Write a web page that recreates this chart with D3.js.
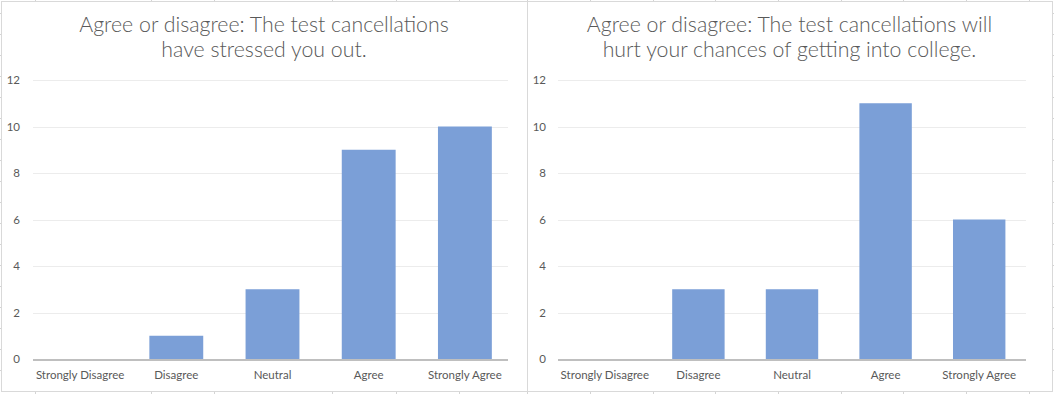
<!DOCTYPE html>
<html><head><meta charset="utf-8">
<script src="https://cdn.jsdelivr.net/npm/d3@7"></script>
<style>body{margin:0;background:#fff}svg{display:block}</style>
</head><body>
<svg id="c" width="1054" height="394"></svg>
<script>
const categories = ["Strongly Disagree","Disagree","Neutral","Agree","Strongly Agree"];
const stressValues = [0,1,3,9,10];
const collegeValues = [0,3,3,11,6];
const yTicks = [0,2,4,6,8,10,12];
const title1 = ["Agree or disagree: The test cancellations","have stressed you out."];
const title2 = ["Agree or disagree: The test cancellations will","hurt your chances of getting into college."];
const sheetCols = [35,151,214,332,396,459,527,590,653,715,778,841,903,966,1029];
const sheetRows = [13,34,55,76,97,118,139,160,181,202,223,244,265,286,307,328,349,370];

const svg = d3.select("#c");
const g0 = svg.append("g");
sheetCols.forEach(x=>g0.append("line").attr("x1",x+0.5).attr("x2",x+0.5).attr("y1",0).attr("y2",394).attr("stroke","#d4d4d4"));
sheetRows.forEach(y=>g0.append("line").attr("x1",0).attr("x2",1054).attr("y1",y+0.5).attr("y2",y+0.5).attr("stroke","#d4d4d4"));

const charts = [
  {x0:1, x1:527, plotL:33, plotR:508, bandL:32, bandR:513, labelX:20, values:stressValues, title:title1},
  {x0:527, x1:1052, plotL:558, plotR:1026, bandL:558, bandR:1026, labelX:546, values:collegeValues, title:title2}
];
const boxTop=1, boxBottom=391;
const y = d3.scaleLinear().domain([0,12]).range([359,80]);
const font = "Lato, 'Open Sans', sans-serif";

charts.forEach(c=>{
  const g = svg.append("g");
  g.append("rect").attr("x",c.x0+0.5).attr("y",boxTop+0.5).attr("width",c.x1-c.x0).attr("height",boxBottom-boxTop)
    .attr("fill","#fff").attr("stroke","#d9d9d9");
  const x = d3.scaleBand().domain(categories).range([c.bandL,c.bandR]).paddingInner(0.44).paddingOuter(0.22);
  g.selectAll(".gl").data(yTicks.filter(t=>t>0)).join("line")
    .attr("x1",c.plotL).attr("x2",c.plotR).attr("y1",d=>Math.round(y(d))+0.5).attr("y2",d=>Math.round(y(d))+0.5)
    .attr("stroke","#ececec");
  g.selectAll(".yl").data(yTicks).join("text")
    .attr("x",c.labelX).attr("y",d=>y(d)).attr("dy","0.35em").attr("text-anchor","end")
    .attr("font-family",font).attr("font-size",11.5).attr("fill","#595959").text(d=>d);
  g.selectAll(".bar").data(categories.map((k,i)=>({k,v:c.values[i]}))).join("rect")
    .attr("x",d=>x(d.k)).attr("width",x.bandwidth())
    .attr("y",d=>y(d.v)).attr("height",d=>y(0)-y(d.v)).attr("fill","#7b9fd7");
  g.append("line").attr("x1",c.plotL).attr("x2",c.plotR).attr("y1",y(0)+1).attr("y2",y(0)+1)
    .attr("stroke","#bfbfbf").attr("stroke-width",2);
  g.selectAll(".xl").data(categories).join("text")
    .attr("x",d=>x(d)+x.bandwidth()/2).attr("y",378.5).attr("text-anchor","middle")
    .attr("font-family",font).attr("font-size",11.5).attr("fill","#595959").text(d=>d);
  const cx = (c.x0+c.x1)/2;
  g.selectAll(".tt").data(c.title).join("text")
    .attr("x",cx).attr("y",(d,i)=>32+i*25).attr("text-anchor","middle")
    .attr("font-family",font).attr("font-weight",300).attr("font-size",21.3).attr("fill","#595959").text(d=>d);
});
</script>
</body></html>
